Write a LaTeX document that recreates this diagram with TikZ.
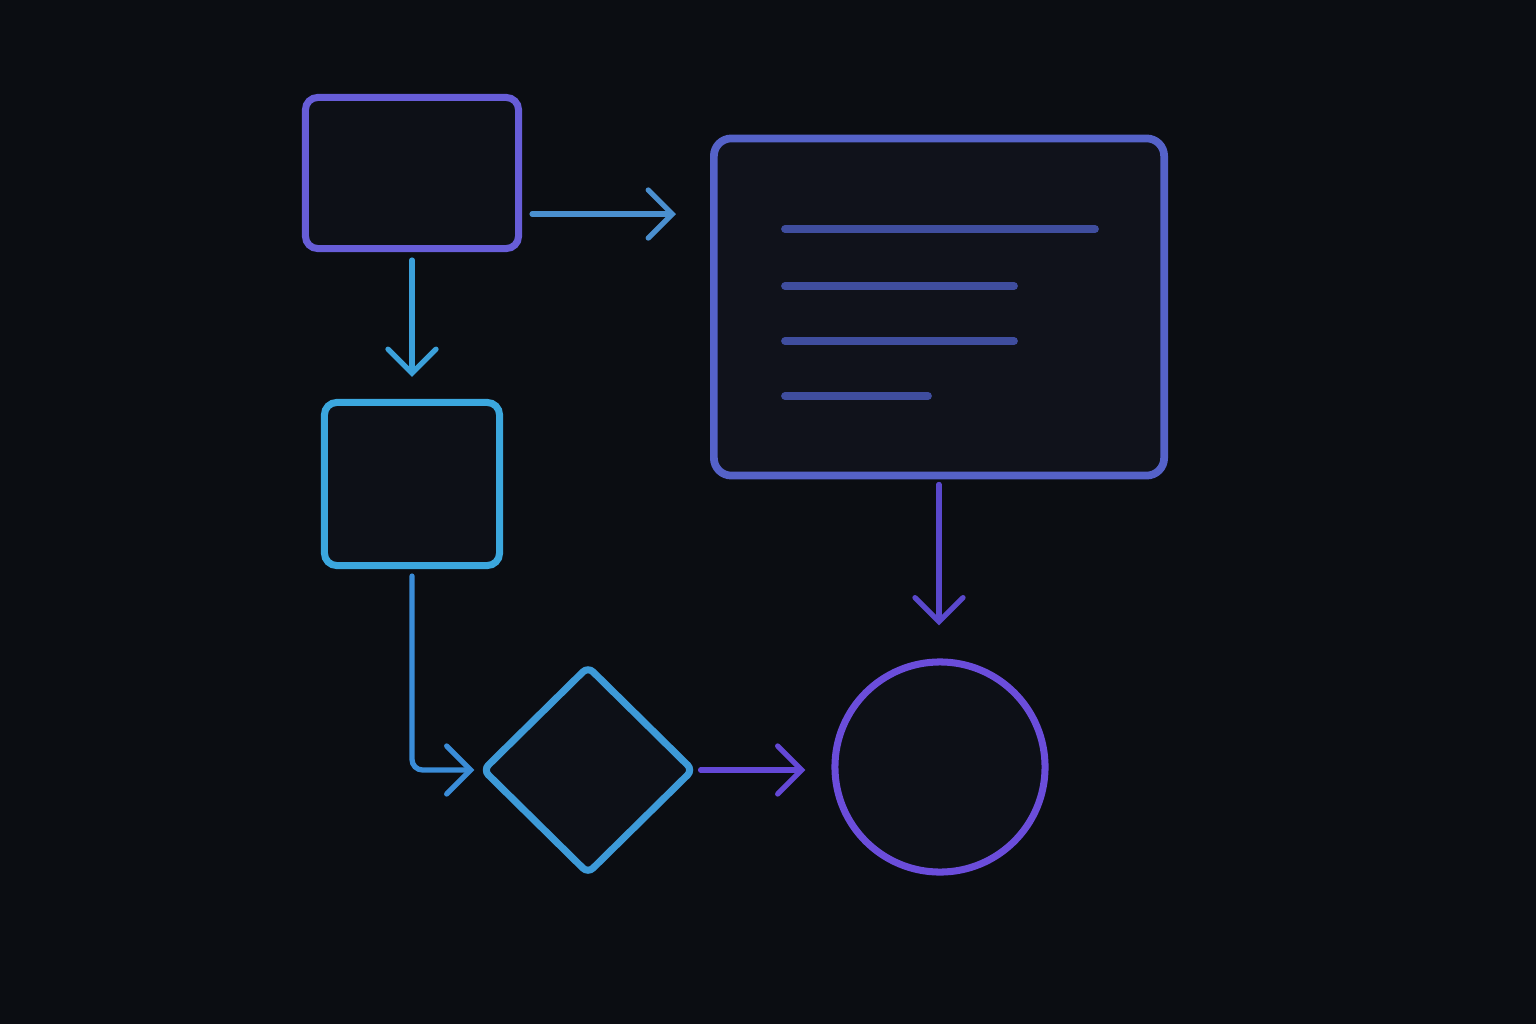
\documentclass[tikz,border=0pt]{standalone}
\usepackage{tikz}
\usetikzlibrary{positioning,arrows.meta,shapes.geometric}
\definecolor{bg}{HTML}{0B0D12}
\definecolor{boxfill}{HTML}{0D1017}
\definecolor{panelfill}{HTML}{10121B}
\definecolor{tlpurple}{HTML}{675DD8}
\definecolor{panelblue}{HTML}{5562C9}
\definecolor{cyanbox}{HTML}{3BA7DE}
\definecolor{diamblue}{HTML}{3D9AD8}
\definecolor{circpurple}{HTML}{6B4DDB}
\definecolor{lineblue}{HTML}{3F4D9E}
\definecolor{arrblue}{HTML}{4A8FCF}
\definecolor{arrcyan}{HTML}{3BA0DA}
\definecolor{arrmid}{HTML}{3A8CD8}
\definecolor{arrpurple}{HTML}{6448D6}
\definecolor{arrindigo}{HTML}{5A48CC}
\begin{document}
\begin{tikzpicture}[x=0.01cm,y=-0.01cm,
    box/.style={draw,line width=2pt,rounded corners=3.5pt,inner sep=0pt},
    arr/.style={line width=1.5pt,line cap=round,-{Straight Barb[length=2.4mm,width=4.8mm,line cap=round]}},
    textline/.style={line width=2.2pt,line cap=round,draw=lineblue}]
      \fill[bg] (0,0) rectangle (1536,1024);
      \node[box,draw=tlpurple,fill=boxfill,minimum width=2.13cm,minimum height=1.51cm](start) at (412,173){};
      \node[box,draw=panelblue,fill=panelfill,line width=2.2pt,rounded corners=5pt,minimum width=4.50cm,minimum height=3.37cm](panel) at (939,307){};
      \node[box,draw=cyanbox,fill=boxfill,minimum width=1.75cm,minimum height=1.63cm](step2) at (412,484){};
      \node[box,diamond,draw=diamblue,fill=boxfill,rounded corners=2pt,minimum width=2.12cm,minimum height=2.09cm](check) at (588,770){};
      \node[box,circle,draw=circpurple,fill=boxfill,minimum size=2.10cm](finish) at (940,767){};
      % lines of the panel
      \foreach \y/\x in {229/1095,286/1014,341/1014,396/928}
        \draw[textline] (785,\y) -- (\x,\y);
      % connectors
      \draw[arr,draw=arrblue] ([xshift=1mm,yshift=-4.1mm]start.east) coordinate (a) -- ([xshift=-3.4mm]panel.west |- a);
      \draw[arr,draw=arrcyan] ([yshift=-0.8mm]start.south) -- ([yshift=2.2mm]step2.north);
      \draw[arr,draw=arrmid,rounded corners=3pt] ([yshift=-0.7mm]step2.south) |- ([xshift=-0.4mm]check.west);
      \draw[arr,draw=arrpurple] ([xshift=0.3mm]check.east) coordinate (b) -- ([xshift=-2.6mm]finish.west |- b);
      \draw[arr,draw=arrindigo] ([yshift=-0.5mm]panel.south) coordinate (c) -- ([yshift=3.3mm]finish.north -| c);
    \end{tikzpicture}
\end{document}
